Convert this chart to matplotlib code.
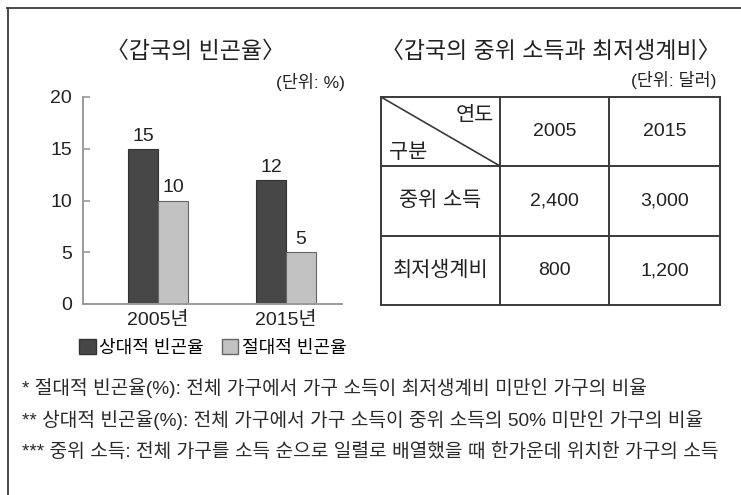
import matplotlib
matplotlib.use('Agg')
import matplotlib.pyplot as plt
from matplotlib.patches import Patch

plt.rcParams['font.family'] = ['Liberation Sans', 'Noto Sans CJK KR']

# 갑국의 빈곤율 (단위: %)
years = ['2005년', '2015년']
relative_rate = [15, 12]
absolute_rate = [10, 5]

# 갑국의 중위 소득과 최저생계비 (단위: 달러)
table_years = ['2005', '2015']
row_names = ['중위 소득', '최저생계비']
median_income = [2400, 3000]
min_living_cost = [800, 1200]

footnotes = [
    '* 절대적 빈곤율(%): 전체 가구에서 가구 소득이 최저생계비 미만인 가구의 비율',
    '** 상대적 빈곤율(%): 전체 가구에서 가구 소득이 중위 소득의 50% 미만인 가구의 비율',
    '*** 중위 소득: 전체 가구를 소득 순으로 일렬로 배열했을 때 한가운데 위치한 가구의 소득',
]

W, H = 741, 495
dark = '#474747'
light = '#c2c2c2'
line_col = '#3a3a3a'
text_col = '#222222'

fig = plt.figure(figsize=(W / 100, H / 100), dpi=100)

# 픽셀 좌표로 그리는 배경 축 (테두리, 제목, 표, 주석)
bg = fig.add_axes([0, 0, 1, 1])
bg.set_xlim(0, W)
bg.set_ylim(H, 0)
bg.axis('off')

bg.plot([7, W], [8, 8], color=line_col, lw=1.3)
bg.plot([8, 8], [8, H], color=line_col, lw=1.3)

bg.text(195, 52, '〈갑국의 빈곤율〉', ha='center', va='center', fontsize=16.5, color=text_col)
bg.text(345, 82, '(단위: %)', ha='right', va='center', fontsize=12.5, color=text_col)
bg.text(551, 52, '〈갑국의 중위 소득과 최저생계비〉', ha='center', va='center', fontsize=16.5, color=text_col)
bg.text(716, 80, '(단위: 달러)', ha='right', va='center', fontsize=12.5, color=text_col)

# 표
col_edges = [381, 500, 609, 720]
row_edges = [97, 166, 236, 305]
for x in col_edges:
    bg.plot([x, x], [row_edges[0], row_edges[-1]], color=line_col, lw=1.4)
for y in row_edges:
    bg.plot([col_edges[0], col_edges[-1]], [y, y], color=line_col, lw=1.4)
bg.plot([col_edges[0], col_edges[1]], [row_edges[0], row_edges[1]], color=line_col, lw=1.2)

bg.text(494, 115, '연도', ha='right', va='center', fontsize=15, color=text_col)
bg.text(389, 152, '구분', ha='left', va='center', fontsize=15, color=text_col)

col_centers = [(a + b) / 2 for a, b in zip(col_edges[:-1], col_edges[1:])]
row_centers = [(a + b) / 2 for a, b in zip(row_edges[:-1], row_edges[1:])]
for i, yr in enumerate(table_years):
    bg.text(col_centers[i + 1], row_centers[0], yr, ha='center', va='center', fontsize=14, color=text_col)
for r, (name, vals) in enumerate(zip(row_names, [median_income, min_living_cost])):
    bg.text(col_centers[0], row_centers[r + 1], name, ha='center', va='center', fontsize=15, color=text_col)
    for c, v in enumerate(vals):
        bg.text(col_centers[c + 1], row_centers[r + 1], f'{v:,}', ha='center', va='center',
                fontsize=14, color=text_col)

# 주석
for i, note in enumerate(footnotes):
    bg.text(22, 388 + 32 * i, note, ha='left', va='center', fontsize=13.8, color='#2a2a2a')

# 막대그래프
ax = fig.add_axes([83 / W, 1 - 304 / H, (342 - 83) / W, (304 - 97) / H])
ax.patch.set_alpha(0)
bw = 0.234
x = list(range(len(years)))
b1 = ax.bar([i - bw / 2 for i in x], relative_rate, bw, color=dark, edgecolor='#333333', lw=0.8)
b2 = ax.bar([i + bw / 2 for i in x], absolute_rate, bw, color=light, edgecolor='#666666', lw=0.8)
ax.bar_label(b1, padding=3, fontsize=14, color=text_col)
ax.bar_label(b2, padding=3, fontsize=14, color=text_col)

ax.set_xlim(-0.586, 1.4375)
ax.set_ylim(0, 20)
ax.set_yticks([0, 5, 10, 15, 20])
ax.set_xticks(x)
ax.set_xticklabels(years)
for s in ['top', 'right']:
    ax.spines[s].set_visible(False)
for s in ['left', 'bottom']:
    ax.spines[s].set_color('#9a9a9a')
    ax.spines[s].set_linewidth(1.4)
ax.tick_params(axis='y', direction='in', length=5, width=1.2, color='#9a9a9a',
               labelsize=14, labelcolor=text_col, pad=8)
ax.tick_params(axis='x', length=0, pad=6, labelsize=14, labelcolor=text_col)

handles = [Patch(facecolor=dark, edgecolor='#333333'), Patch(facecolor=light, edgecolor='#666666')]
fig.legend(handles, ['상대적 빈곤율', '절대적 빈곤율'], loc='center', bbox_to_anchor=(213 / W, 1 - 348 / H),
           ncol=2, frameon=False, fontsize=13, handlelength=0.9, handleheight=0.9,
           handletextpad=0.2, columnspacing=1.0, borderpad=0)

fig.savefig('out.png', dpi=100)
